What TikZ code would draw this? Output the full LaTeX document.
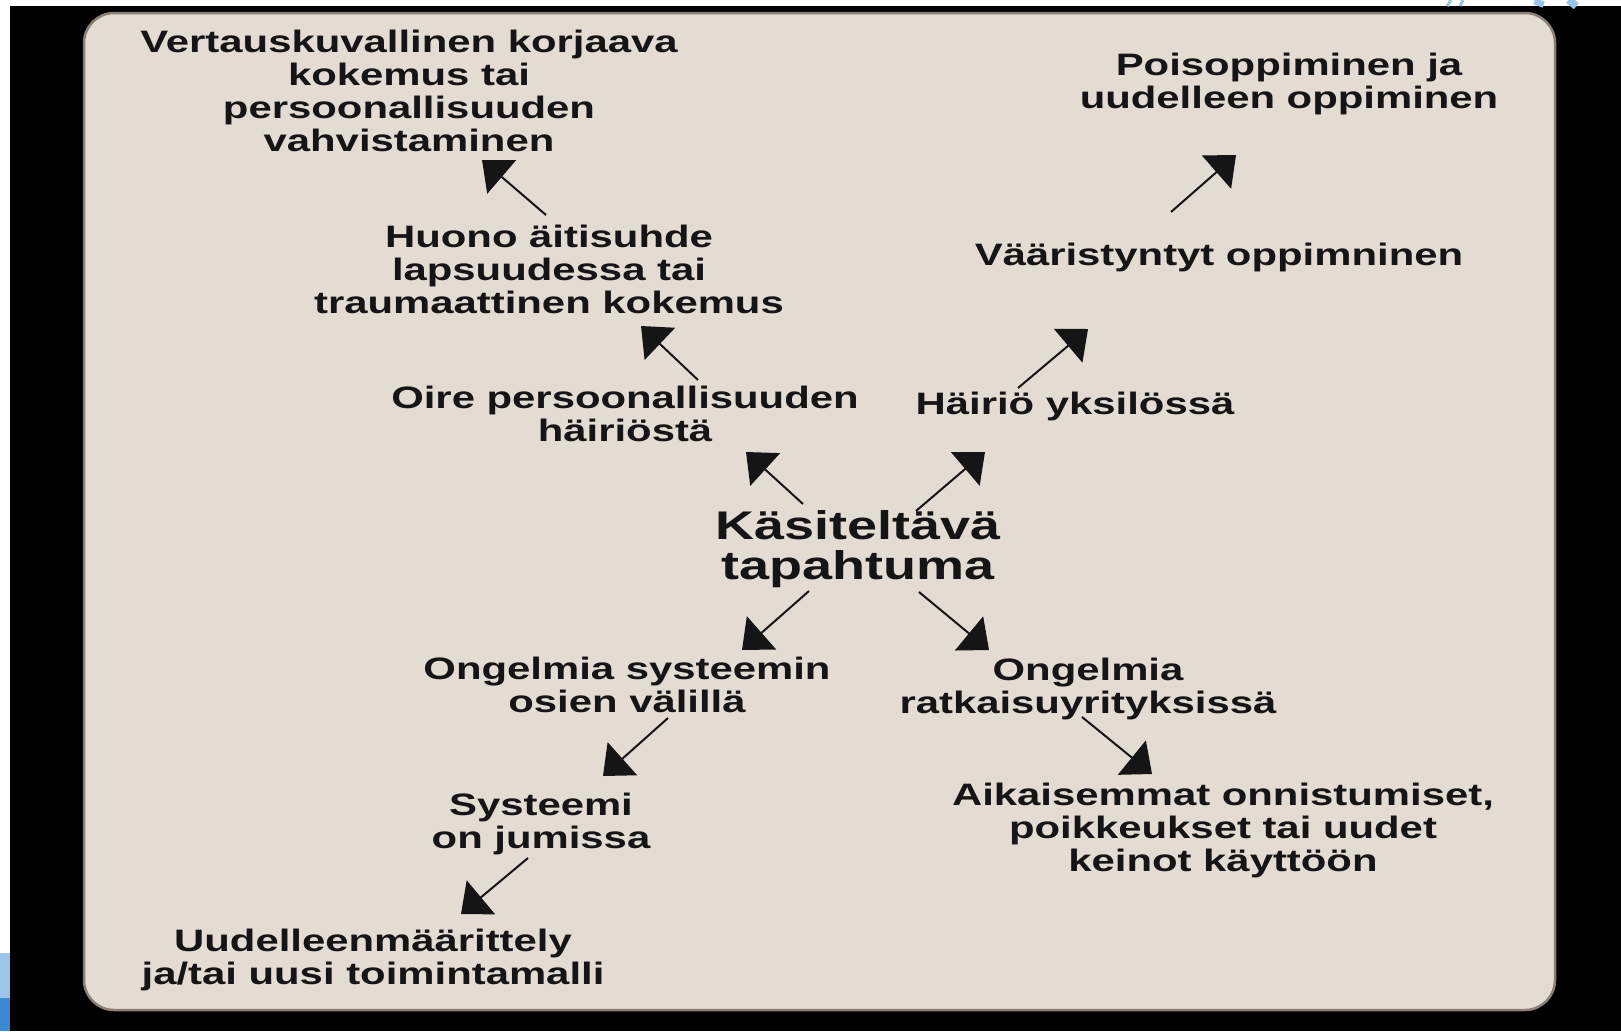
\documentclass[tikz,border=0pt]{standalone}
\usepackage{fontspec}
\setmainfont{Liberation Sans}[FakeStretch=1.35]
\usetikzlibrary{arrows.meta,calc}
\definecolor{paper}{HTML}{E2DCD3}
\definecolor{rim}{HTML}{8A7E77}
\definecolor{ink}{HTML}{151515}
\definecolor{skyA}{HTML}{9CC4E8}
\definecolor{skyB}{HTML}{3C88D2}

\begin{document}
\begin{tikzpicture}[x=1pt,y=-1pt,
  lbl/.style={align=center,inner sep=0pt,text=ink,font=\fontsize{31}{33}\selectfont\bfseries},
  biglbl/.style={lbl,font=\fontsize{40}{40}\selectfont\bfseries},
  arr/.style={draw=ink,line width=2pt,-{Triangle[length=26pt,width=44pt]}}]
\useasboundingbox (0,0) rectangle (1621,1031);
% frame
\fill[white] (0,0) rectangle (1621,1031);
\fill[black] (10,6) rectangle (1621,1031);
\fill[skyA] (0,953) rectangle (10,998);
\fill[skyB] (0,998) rectangle (10,1031);
\draw[skyA,line width=3pt] (1447,6) -- (1451,0) (1460,6) -- (1463,0);
\draw[skyA,line width=10pt] (1538,6) -- (1540,0) (1570,6) -- (1575,0);
\draw[rim,fill=paper,line width=2.5pt,rounded corners=30pt] (84,13) rectangle (1555,1010);

% upper left chain
\node[lbl] (vert) at (409,91) {Vertauskuvallinen korjaava\\kokemus tai\\persoonallisuuden\\vahvistaminen};
\node[lbl] (huono) at (549,269) {Huono äitisuhde\\lapsuudessa tai\\traumaattinen kokemus};
\node[lbl] (oire) at (625,414) {Oire persoonallisuuden\\häiriöstä};
% upper right chain
\node[lbl] (hairio) at (1075,406) {Häiriö yksilössä};
\node[lbl] (vaaris) at (1219,257) {Vääristyntyt oppimninen};
\node[lbl] (poiso) at (1289,84) {Poisoppiminen ja\\uudelleen oppiminen};
% centre
\node[biglbl] (kasit) at (858,549) {Käsiteltävä\\tapahtuma};
% lower chains
\node[lbl] (ongsys) at (627,685) {Ongelmia systeemin\\osien välillä};
\node[lbl] (ongrat) at (1088,689) {Ongelmia\\ratkaisuyrityksissä};
\node[lbl] (syst) at (541,824) {Systeemi\\on jumissa};
\node[lbl] (uudel) at (373,960) {Uudelleenmäärittely\\ja/tai uusi toimintamalli};
\node[lbl] (aikais) at (1223,830) {Aikaisemmat onnistumiset,\\poikkeukset tai uudet\\keinot käyttöön};

\draw[arr] ($(huono)+(-3,-54)$) -- ($(vert)+(73,69)$);
\draw[arr] ($(oire)+(73,-34)$) -- ($(huono)+(92,57)$);
\draw[arr] ($(kasit)+(-55,-45)$) -- ($(oire)+(121,38)$);
\draw[arr] ($(kasit)+(58,-38)$) -- ($(hairio)+(-90,46)$);
\draw[arr] ($(hairio)+(-57,-18)$) -- ($(vaaris)+(-131,72)$);
\draw[arr] ($(vaaris)+(-48,-45)$) -- ($(poiso)+(-53,71)$);
\draw[arr] ($(kasit)+(-49,42)$) -- ($(ongsys)+(115,-35)$);
\draw[arr] ($(kasit)+(61,43)$) -- ($(ongrat)+(-99,-39)$);
\draw[arr] ($(ongsys)+(41,33)$) -- ($(syst)+(62,-48)$);
\draw[arr] ($(ongrat)+(-6,28)$) -- ($(aikais)+(-71,-56)$);
\draw[arr] ($(syst)+(-13,34)$) -- ($(uudel)+(88,-46)$);
\end{tikzpicture}
\end{document}
